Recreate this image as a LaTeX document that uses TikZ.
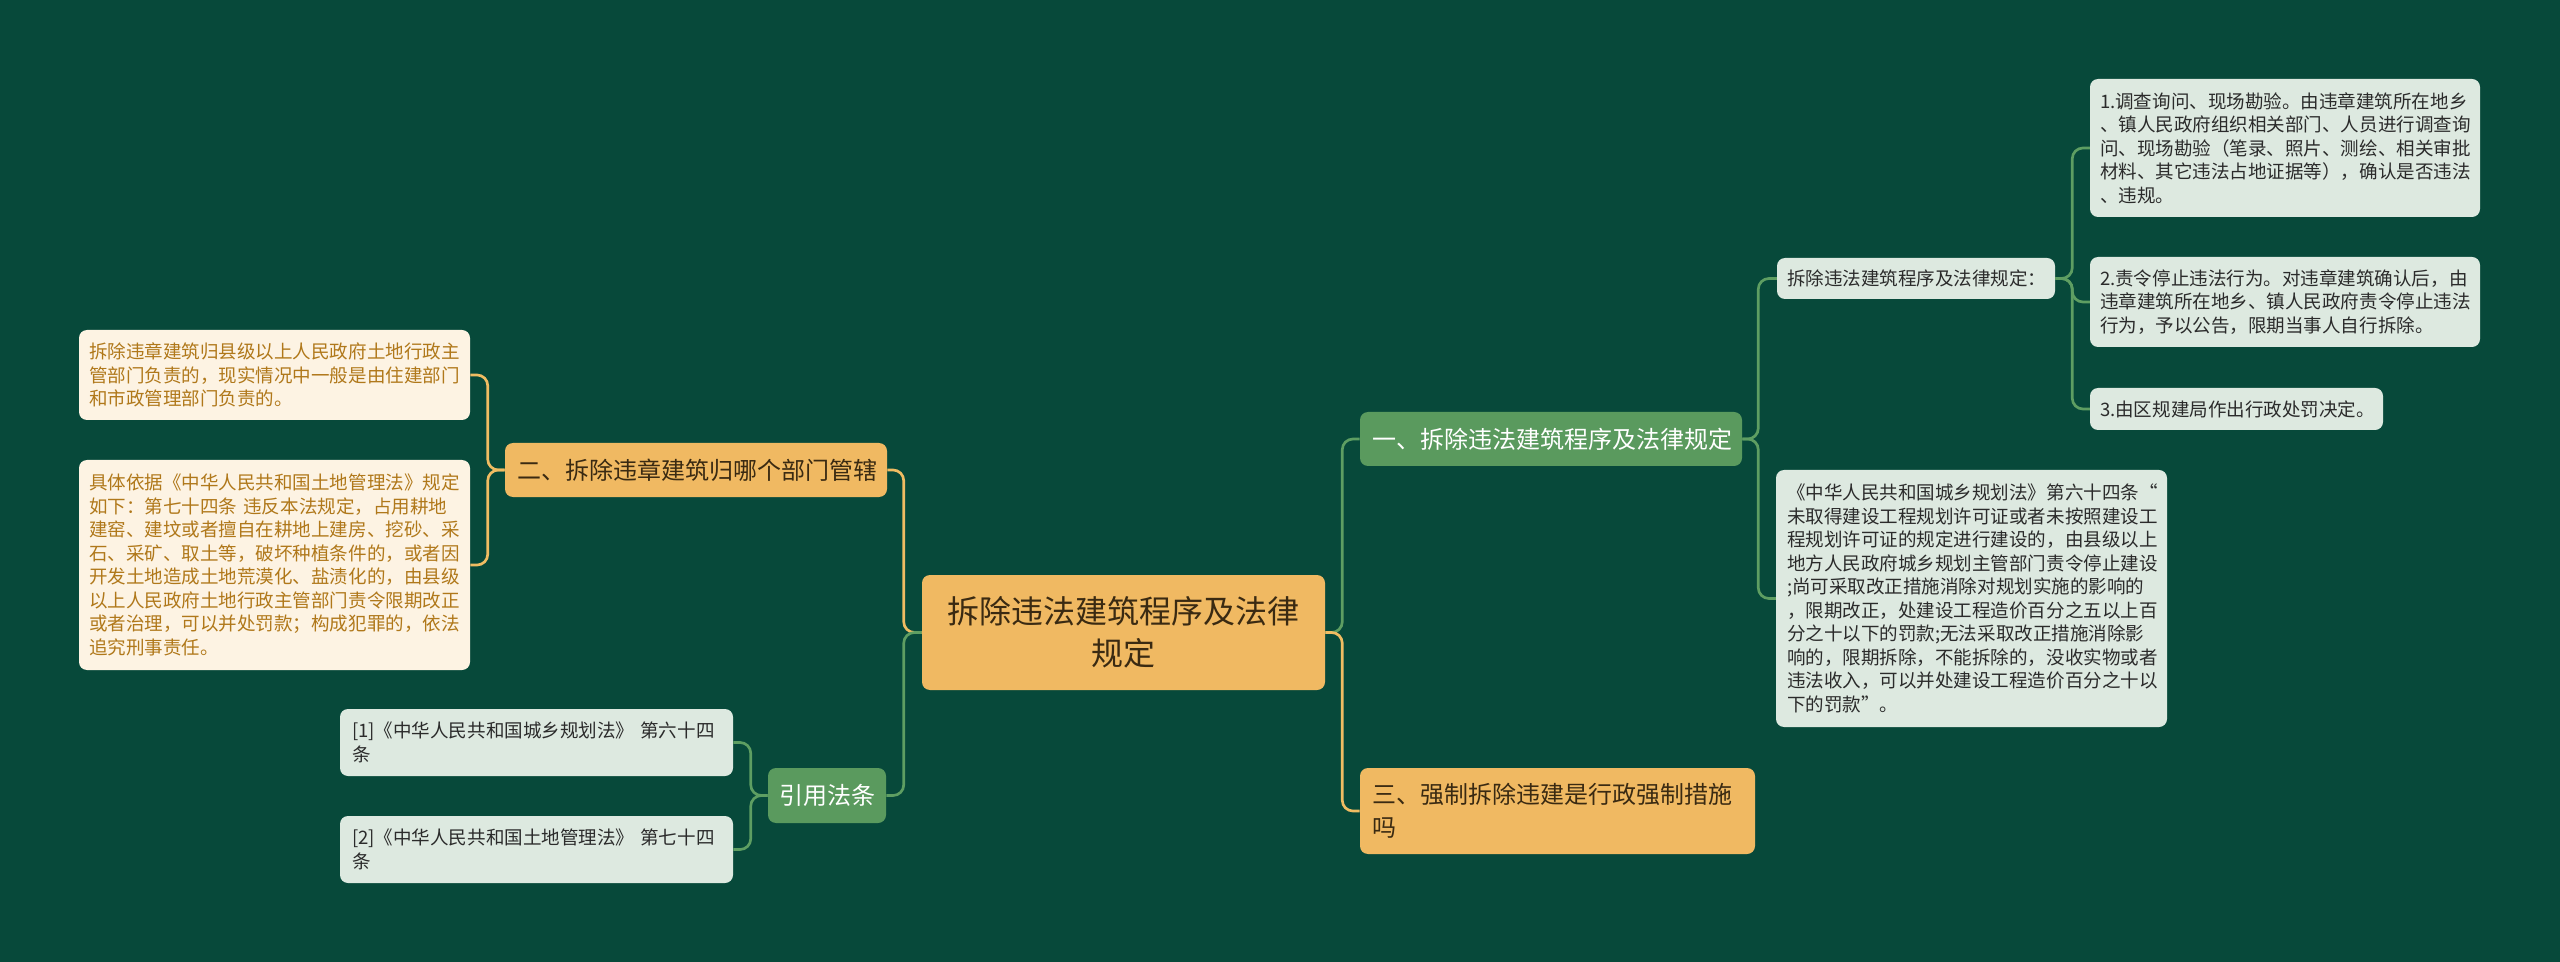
\documentclass[tikz,border=0pt]{standalone}
\usepackage{fontspec}
\setmainfont{Noto Sans CJK SC}
\definecolor{bg}{HTML}{07493A}
\definecolor{gnode}{HTML}{5A9A5E}
\definecolor{lfill}{HTML}{DDE9E0}
\definecolor{ltext}{HTML}{2B2B2B}
\definecolor{onode}{HTML}{F0B962}
\definecolor{otext}{HTML}{3A2A12}
\definecolor{cream}{HTML}{FDF3E3}
\definecolor{goldtext}{HTML}{B0781A}
\definecolor{gline}{HTML}{5E9E62}
\definecolor{oline}{HTML}{F0BC62}
\begin{document}
\begin{tikzpicture}[x=0.75pt,y=-0.75pt,
  base/.style={rectangle, rounded corners=6pt, inner ysep=0pt, align=left},
  rootbox/.style={base, fill=onode, text=otext, align=center, minimum width=302.25pt, minimum height=86.25pt, text width=284.25pt, font=\fontsize{24pt}{31.5pt}\selectfont},
  greenbox/.style={base, fill=gnode, text=white, inner xsep=9pt, font=\fontsize{18pt}{24.75pt}\selectfont},
  orangebox/.style={base, fill=onode, text=otext, inner xsep=9pt, font=\fontsize{18pt}{24.75pt}\selectfont},
  leafbox/.style={base, fill=lfill, text=ltext, inner xsep=7.5pt, font=\fontsize{13.9pt}{17.6pt}\selectfont},
  creambox/.style={base, fill=cream, text=goldtext, inner xsep=7.5pt, font=\fontsize{13.9pt}{17.6pt}\selectfont},
  gconn/.style={draw=gline, line width=2pt, rounded corners=8pt},
  oconn/.style={draw=oline, line width=2pt, rounded corners=8pt}
]
\fill[bg] (0,0) rectangle (2560,962);

% central and main branches
\node[rootbox] (root) at (1123.5,632.5) {拆除违法建筑程序及法律\\规定};
\node[greenbox, minimum width=286.5pt, minimum height=40.5pt, text width=268.5pt] (one) at (1551,439) {一、拆除违法建筑程序及法律规定};
\node[orangebox, minimum width=296.25pt, minimum height=64.5pt, text width=278.25pt] (three) at (1557.5,811) {三、强制拆除违建是行政强制措施\\吗};
\node[orangebox, minimum width=286.5pt, minimum height=40.5pt, text width=268.5pt] (two) at (696,470) {二、拆除违章建筑归哪个部门管辖};
\node[greenbox, align=center, inner xsep=0pt, minimum width=88.5pt, minimum height=41.25pt, text width=88.5pt] (cite) at (827,795.5) {引用法条};

% left leaves
\node[creambox, minimum width=293.25pt, minimum height=67.5pt, text width=278.25pt] (lb1) at (274.5,375) {拆除违章建筑归县级以上人民政府土地行政主\\管部门负责的，现实情况中一般是由住建部门\\和市政管理部门负责的。};
\node[creambox, minimum width=293.25pt, minimum height=157.5pt, text width=278.25pt] (lb2) at (274.5,565) {具体依据《中华人民共和国土地管理法》规定\\如下：第七十四条 违反本法规定，占用耕地\\建窑、建坟或者擅自在耕地上建房、挖砂、采\\石、采矿、取土等，破坏种植条件的，或者因\\开发土地造成土地荒漠化、盐渍化的，由县级\\以上人民政府土地行政主管部门责令限期改正\\或者治理，可以并处罚款；构成犯罪的，依法\\追究刑事责任。};
\node[leafbox, inner xsep=9pt, minimum width=294.75pt, minimum height=50.25pt, text width=276.75pt] (c1) at (536.5,742.5) {[1]《中华人民共和国城乡规划法》 第六十四\\条};
\node[leafbox, inner xsep=9pt, minimum width=294.75pt, minimum height=50.25pt, text width=276.75pt] (c2) at (536.5,849.5) {[2]《中华人民共和国土地管理法》 第七十四\\条};

% right leaves
\node[leafbox, minimum width=208.5pt, minimum height=30.75pt, text width=193.5pt] (lab) at (1916,278.5) {拆除违法建筑程序及法律规定：};
\node[leafbox, minimum width=292.5pt, minimum height=103.5pt, text width=277.5pt] (s1) at (2285,148) {1.调查询问、现场勘验。由违章建筑所在地乡\\、镇人民政府组织相关部门、人员进行调查询\\问、现场勘验（笔录、照片、测绘、相关审批\\材料、其它违法占地证据等），确认是否违法\\、违规。};
\node[leafbox, minimum width=292.5pt, minimum height=67.5pt, text width=277.5pt] (s2) at (2285,302) {2.责令停止违法行为。对违章建筑确认后，由\\违章建筑所在地乡、镇人民政府责令停止违法\\行为，予以公告，限期当事人自行拆除。};
\node[leafbox, minimum width=219.75pt, minimum height=31.5pt, text width=204.75pt] (s3) at (2236.5,409) {3.由区规建局作出行政处罚决定。};
\node[leafbox, inner xsep=8.25pt, minimum width=293.25pt, minimum height=192.75pt, text width=276.75pt] (zh) at (1971.5,598.5) {《中华人民共和国城乡规划法》第六十四条“\\未取得建设工程规划许可证或者未按照建设工\\程规划许可证的规定进行建设的，由县级以上\\地方人民政府城乡规划主管部门责令停止建设\\;尚可采取改正措施消除对规划实施的影响的\\，限期改正，处建设工程造价百分之五以上百\\分之十以下的罚款;无法采取改正措施消除影\\响的，限期拆除，不能拆除的，没收实物或者\\违法收入，可以并处建设工程造价百分之十以\\下的罚款”。};

% connectors
\draw[gconn] (root.east) -- ++(17,0) |- (one.west);
\draw[oconn] (root.east) -- ++(17,0) |- (three.west);
\draw[oconn] (root.west) -- ++(-18,0) |- (two.east);
\draw[gconn] (root.west) -- ++(-18,0) |- (cite.east);
\draw[oconn] (two.west) -- ++(-17,0) |- (lb1.east);
\draw[oconn] (two.west) -- ++(-17,0) |- (lb2.east);
\draw[gconn] (cite.west) -- ++(-17,0) |- (c1.east);
\draw[gconn] (cite.west) -- ++(-17,0) |- (c2.east);
\draw[gconn] (one.east) -- ++(16,0) |- (lab.west);
\draw[gconn] (one.east) -- ++(16,0) |- (zh.west);
\draw[gconn] (lab.east) -- ++(17,0) |- (s1.west);
\draw[gconn] (lab.east) -- ++(17,0) |- (s2.west);
\draw[gconn] (lab.east) -- ++(17,0) |- (s3.west);
\end{tikzpicture}
\end{document}
